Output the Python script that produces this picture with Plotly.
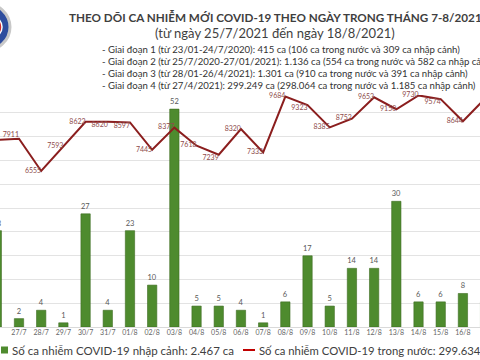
import plotly.graph_objects as go

dates = ["26/7", "27/7", "28/7", "29/7", "30/7", "31/7", "01/8", "02/8", "03/8", "04/8",
         "05/8", "06/8", "07/8", "08/8", "09/8", "10/8", "11/8", "12/8", "13/8", "14/8",
         "15/8", "16/8", "17/8"]
imported = [23, 2, 4, 1, 27, 4, 23, 10, 52, 5, 5, 4, 1, 6, 17, 5, 14, 14, 30, 6, 6, 8, 6]
domestic = [7860, 7911, 6555, 7593, 8622, 8620, 8597, 7445, 8377, 7618, 7239, 8320, 7333,
            9684, 9323, 8385, 8752, 9653, 9150, 9730, 9574, 8644, 9599]
label_pos = ["middle left", "top left", "middle left", "middle left", "middle left", "bottom left",
             "bottom left", "middle left", "middle left", "middle left", "bottom left", "middle left",
             "middle left", "middle left", "bottom left", "middle left", "middle left", "middle left",
             "middle left", "middle left", "bottom left", "middle left", "middle left"]

title = "THEO DÕI CA NHIỄM MỚI COVID-19 THEO NGÀY TRONG THÁNG 7-8/2021"
subtitle = "(từ ngày 25/7/2021 đến ngày 18/8/2021)"
bullets = [
    "- Giai đoạn 1 (từ 23/01-24/7/2020): 415 ca (106 ca trong nước và 309 ca nhập cảnh)",
    "- Giai đoạn 2 (từ 25/7/2020-27/01/2021): 1.136 ca (554 ca trong nước và 582 ca nhập cảnh)",
    "- Giai đoạn 3 (từ 28/01-26/4/2021): 1.301 ca (910 ca trong nước và 391 ca nhập cảnh)",
    "- Giai đoạn 4 (từ 27/4/2021): 299.249 ca (298.064 ca trong nước và 1.185 ca nhập cảnh)",
]
legend_bar = "Số ca nhiễm COVID-19 nhập cảnh: 2.467 ca"
legend_line = "Số ca nhiễm COVID-19 trong nước: 299.634 ca"

W, H = 480, 360
T, B = 95, 33
PH = H - T - B  # plot height in px


def px_x(x):
    return x / W


def px_y(y):
    return (H - B - y) / PH


FONT = "Lato"
BAR_C = "#4E8B2E"
LINE_C = "#8B1E1E"

fig = go.Figure()
fig.add_trace(go.Bar(
    x=dates, y=imported, width=0.42,
    marker=dict(color=BAR_C, line=dict(color="#3E6B22", width=0.6)),
    text=[str(v) for v in imported], textposition="outside",
    textfont=dict(size=7.5, color="#595959", family=FONT),
    showlegend=False, yaxis="y",
))
fig.add_trace(go.Scatter(
    x=dates, y=domestic, mode="lines+text",
    line=dict(color=LINE_C, width=2),
    text=[str(v) for v in domestic], textposition=label_pos,
    textfont=dict(size=7, color="#8E4B4B", family=FONT),
    showlegend=False, yaxis="y2", cliponaxis=False,
))

fig.update_layout(
    width=W, height=H,
    margin=dict(l=0, r=0, t=T, b=B),
    paper_bgcolor="white", plot_bgcolor="white",
    font=dict(family=FONT),
    xaxis=dict(type="category", range=[0.144, 21.77], showgrid=False, showline=False,
               ticks="", tickfont=dict(size=7, color="#666666", family=FONT)),
    yaxis=dict(range=[0, PH / 4.19], visible=False, showgrid=False),
    yaxis2=dict(range=[0, PH / 0.0238], overlaying="y", side="right",
                showgrid=True, gridcolor="#E3E3E3", gridwidth=1, dtick=1000,
                showticklabels=False, zeroline=True, zerolinecolor="#D9D9D9", zerolinewidth=1),
    bargap=0.5,
)

anns = []
anns.append(dict(text="<b>" + title + "</b>", x=px_x(67), y=px_y(17), xanchor="left", yanchor="middle",
                 xref="paper", yref="paper", showarrow=False,
                 font=dict(size=11.7, color="#3F3F3F", family=FONT)))
anns.append(dict(text=subtitle, x=px_x(275), y=px_y(33), xanchor="center", yanchor="middle",
                 xref="paper", yref="paper", showarrow=False,
                 font=dict(size=13, color="#3F3F3F", family=FONT)))
for i, b in enumerate(bullets):
    anns.append(dict(text=b, x=px_x(100), y=px_y(49 + i * 12), xanchor="left", yanchor="middle",
                     xref="paper", yref="paper", showarrow=False,
                     font=dict(size=9.6, color="#333333", family=FONT)))
anns.append(dict(text=legend_bar, x=px_x(10), y=px_y(350), xanchor="left", yanchor="middle",
                 xref="paper", yref="paper", showarrow=False,
                 font=dict(size=11.5, color="#404040", family=FONT)))
anns.append(dict(text=legend_line, x=px_x(257), y=px_y(350), xanchor="left", yanchor="middle",
                 xref="paper", yref="paper", showarrow=False,
                 font=dict(size=11.3, color="#404040", family=FONT)))
fig.update_layout(annotations=anns)

shapes = [
    # legend symbols
    dict(type="rect", xref="paper", yref="paper", x0=px_x(1), x1=px_x(8), y0=px_y(353.5), y1=px_y(346.5),
         fillcolor=BAR_C, line=dict(width=0)),
    dict(type="line", xref="paper", yref="paper", x0=px_x(243), x1=px_x(255), y0=px_y(350), y1=px_y(350),
         line=dict(color="#C00000", width=2)),
    # logo (partially cropped emblem)
    dict(type="circle", xref="paper", yref="paper", x0=px_x(-42), x1=px_x(10), y0=px_y(51), y1=px_y(3),
         fillcolor="#2E4D9E", line=dict(color="#C8C8C8", width=3)),
    dict(type="circle", xref="paper", yref="paper", x0=px_x(-20), x1=px_x(2), y0=px_y(38), y1=px_y(16),
         fillcolor="#D12C2C", line=dict(color="#FFFFFF", width=1.5)),
]
fig.update_layout(shapes=shapes)

fig.write_html("out.html", config={"displayModeBar": False},
               post_script="document.body.style.margin='0';")
